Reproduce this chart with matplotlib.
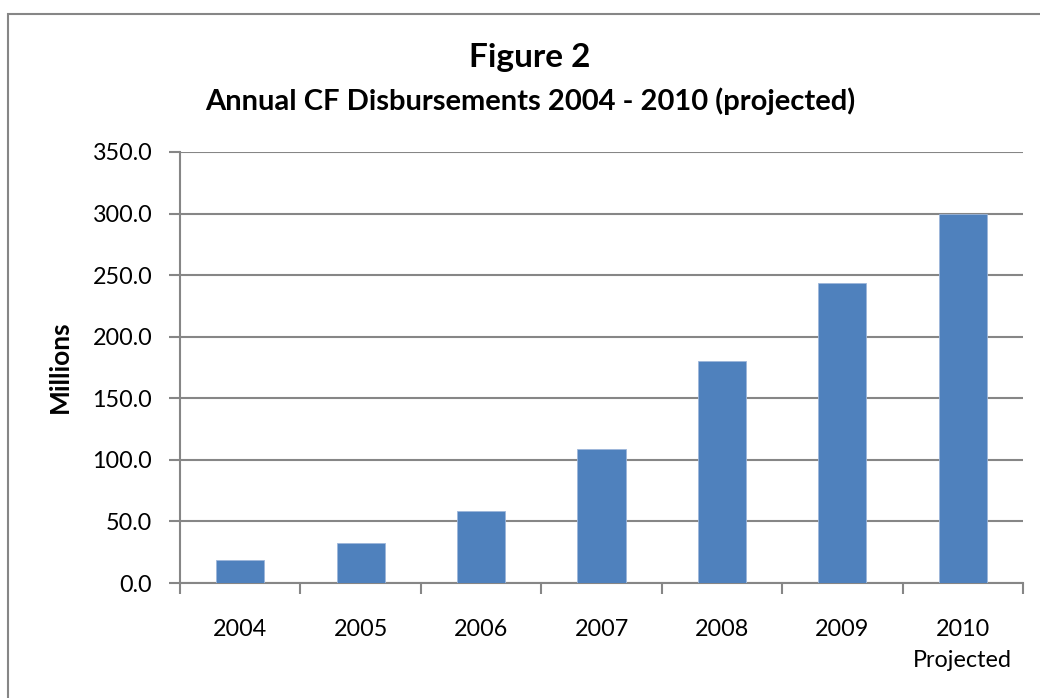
import matplotlib
matplotlib.use("Agg")
import matplotlib.pyplot as plt
from matplotlib.patches import Rectangle
import numpy as np

categories = ["2004", "2005", "2006", "2007", "2008", "2009", "2010\nProjected"]
values = [18.7, 32.2, 58.2, 108.8, 180.0, 243.6, 300.0]
yticks = [0, 50, 100, 150, 200, 250, 300, 350]

plt.rcParams['font.family'] = ['Lato', 'DejaVu Sans']
W, H = 1040, 698
fig = plt.figure(figsize=(W / 100, H / 100), dpi=100)
ax = fig.add_axes([180 / W, 1 - 583 / H, (1023 - 180) / W, (583 - 152) / H])

gray = "#868686"
x = np.arange(len(categories))
ax.bar(x, values, width=0.4, color="#4F81BD", edgecolor="#9DB6DA", linewidth=0.6, zorder=3)

ax.set_xlim(-0.5, len(categories) - 0.5)
ax.set_ylim(0, 350)
ax.set_yticks(yticks)
ax.set_yticklabels([f"{v:.1f}" for v in yticks], fontsize=16.8)
ax.set_xticks(x)
ax.set_xticklabels(categories, fontsize=16.8, linespacing=1.6)
ax.set_xticks(np.arange(len(categories) + 1) - 0.5, minor=True)
ax.tick_params(axis='x', which='major', length=0, pad=26)
ax.tick_params(axis='x', which='minor', length=8, width=1.5, color=gray, direction='out')
ax.tick_params(axis='y', length=8, width=1.5, color=gray, direction='out', pad=12)

ax.grid(axis='y', color=gray, linewidth=1.5, zorder=0)
ax.set_axisbelow(True)
for s in ['top', 'right']:
    ax.spines[s].set_visible(False)
for s in ['left', 'bottom']:
    ax.spines[s].set_color(gray)
    ax.spines[s].set_linewidth(1.5)

fig.text(60 / W, 1 - 367 / H, "Millions", rotation=90, ha='center', va='center',
         fontsize=19, fontweight='bold')

fig.text(530 / W, 1 - 58 / H, "Figure 2", ha='center', va='center', fontsize=24, fontweight='bold')
fig.text(530 / W, 1 - 101 / H, "Annual CF Disbursements 2004 - 2010 (projected)", ha='center', va='center',
         fontsize=21, fontweight='bold')

fig.patches.append(Rectangle((8 / W, -0.1), 1.2, 1 - 14 / H + 0.1, transform=fig.transFigure,
                             fill=False, edgecolor=gray, linewidth=1.5))

fig.savefig("out.png", dpi=100)
